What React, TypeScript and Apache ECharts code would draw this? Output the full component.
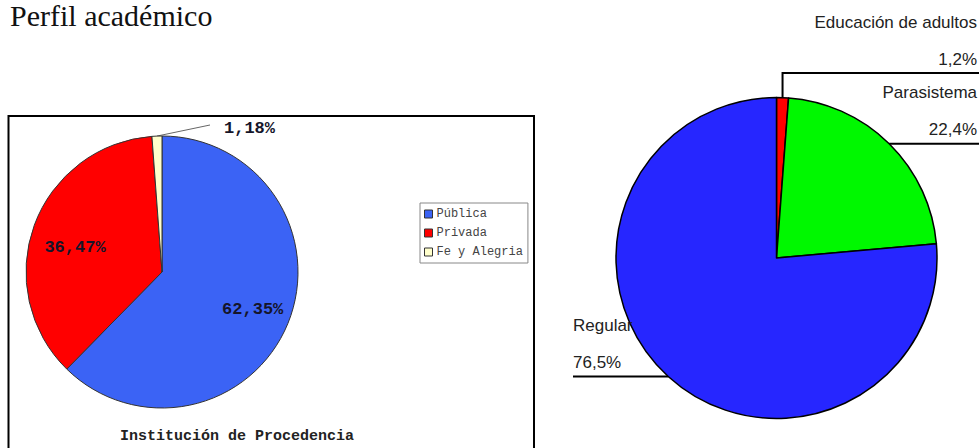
import React, { useEffect, useRef } from 'react';
import * as echarts from 'echarts';

const institucionNames = ['Pública', 'Privada', 'Fe y Alegria'];
const institucionValues = [62.35, 36.47, 1.18];
const institucionColors = ['#3b63f5', '#ff0000', '#ffffcc'];

const perfilNames = ['Educación de adultos', 'Parasistema', 'Regular'];
const perfilValues = [1.2, 22.4, 76.5];
const perfilColors = ['#ff0000', '#00f800', '#2626ff'];

const pageTitle = 'Perfil académico';
const leftTitle = 'Institución de Procedencia';

const fmt = (v: number, d: number) => v.toFixed(d).replace('.', ',') + '%';

const LC = [162, 272];
const LR = 136;
const RC = [776.5, 258];
const RR = 160.5;
const insideShift = [
  [0, 0],
  [5, 9],
];

export default function App() {
  const ref = useRef<HTMLDivElement>(null);
  useEffect(() => {
    if (!ref.current) return;
    const chart = echarts.init(ref.current, undefined, { renderer: 'svg' });
    const option: any = {
      animation: false,
      backgroundColor: '#ffffff',
      graphic: [
        {
          type: 'text',
          left: 10,
          top: 0,
          style: { text: pageTitle, font: '30px "Liberation Serif"', fill: '#111' },
        },
        {
          type: 'rect',
          z: -1,
          shape: { x: 8.5, y: 116, width: 525.5, height: 340 },
          style: { fill: 'transparent', stroke: '#000', lineWidth: 2 },
        },
        {
          type: 'text',
          x: 237,
          y: 436,
          style: {
            text: leftTitle,
            font: 'bold 15px "Liberation Mono"',
            fill: '#222',
            textAlign: 'center',
            textVerticalAlign: 'middle',
          },
        },
      ],
      legend: {
        data: institucionNames,
        orient: 'vertical',
        left: 420,
        top: 203,
        icon: 'rect',
        itemWidth: 8,
        itemHeight: 8,
        itemGap: 7,
        padding: [5, 5, 5, 4],
        borderColor: '#888',
        borderWidth: 1,
        backgroundColor: '#fff',
        itemStyle: { borderColor: '#333', borderWidth: 1 },
        textStyle: { fontFamily: 'Liberation Mono', fontSize: 12, color: '#444', padding: [0, 0, 0, -1] },
      },
      series: [
        {
          type: 'pie',
          center: LC,
          radius: LR,
          startAngle: 90,
          clockwise: true,
          avoidLabelOverlap: false,
          itemStyle: { borderColor: '#333', borderWidth: 1 },
          label: {
            show: true,
            formatter: (p: any) => fmt(p.value, 2),
            fontFamily: 'Liberation Mono',
            fontWeight: 'bold',
            fontSize: 17,
            color: '#15152a',
          },
          labelLine: { show: true, length: 10, length2: 10, lineStyle: { color: '#666', width: 1 } },
          labelLayout: (params: any) => {
            const r = params.labelRect;
            const i = params.dataIndex;
            if (i < 2) {
              const cx = r.x + r.width / 2;
              const cy = r.y + r.height / 2;
              return {
                x: LC[0] + (cx - LC[0]) * 1.38 + insideShift[i][0],
                y: LC[1] + (cy - LC[1]) * 1.38 + insideShift[i][1],
                align: 'center',
                verticalAlign: 'middle',
              };
            }
            const p0 = params.labelLinePoints ? params.labelLinePoints[0] : [157, 136];
            return {
              x: 224,
              y: 128,
              align: 'left',
              verticalAlign: 'middle',
              labelLinePoints: [p0, [210, 125]],
            };
          },
          data: institucionNames.map((n, i) => ({
            name: n,
            value: institucionValues[i],
            itemStyle: { color: institucionColors[i] },
            label: { position: i < 2 ? 'inside' : 'outside' },
            labelLine: { show: i >= 2 },
          })),
        },
        {
          type: 'pie',
          center: RC,
          radius: RR,
          startAngle: 90,
          clockwise: true,
          avoidLabelOverlap: false,
          itemStyle: { borderColor: '#000', borderWidth: 1.5 },
          label: {
            show: true,
            position: 'outside',
            formatter: (p: any) => p.name + '\n' + fmt(p.value, 1),
            fontFamily: 'Liberation Sans',
            fontSize: 17,
            lineHeight: 37,
            color: '#222',
          },
          labelLine: { show: true, length: 10, length2: 10, lineStyle: { color: '#000', width: 2 } },
          labelLayout: (params: any) => {
            const p = params.labelLinePoints ? params.labelLinePoints[0] : [RC[0], RC[1]];
            const i = params.dataIndex;
            if (i === 0) {
              return {
                x: 977,
                y: 73 - 32,
                align: 'right',
                verticalAlign: 'middle',
                labelLinePoints: [p, [p[0], 73], [979, 73]],
              };
            }
            if (i === 1) {
              return {
                x: 977,
                y: p[1] - 33,
                align: 'right',
                verticalAlign: 'middle',
                labelLinePoints: [p, [979, p[1]]],
              };
            }
            return {
              x: 573,
              y: p[1] - 32,
              align: 'left',
              verticalAlign: 'middle',
              labelLinePoints: [p, [573, p[1]]],
            };
          },
          data: perfilNames.map((n, i) => ({
            name: n,
            value: perfilValues[i],
            itemStyle: { color: perfilColors[i] },
          })),
        },
      ],
    };
    chart.setOption(option);
    return () => chart.dispose();
  }, []);
  return (
    <div
      ref={ref}
      style={{ position: 'absolute', left: 0, top: 0, width: 979, height: 448, background: '#fff' }}
    />
  );
}
